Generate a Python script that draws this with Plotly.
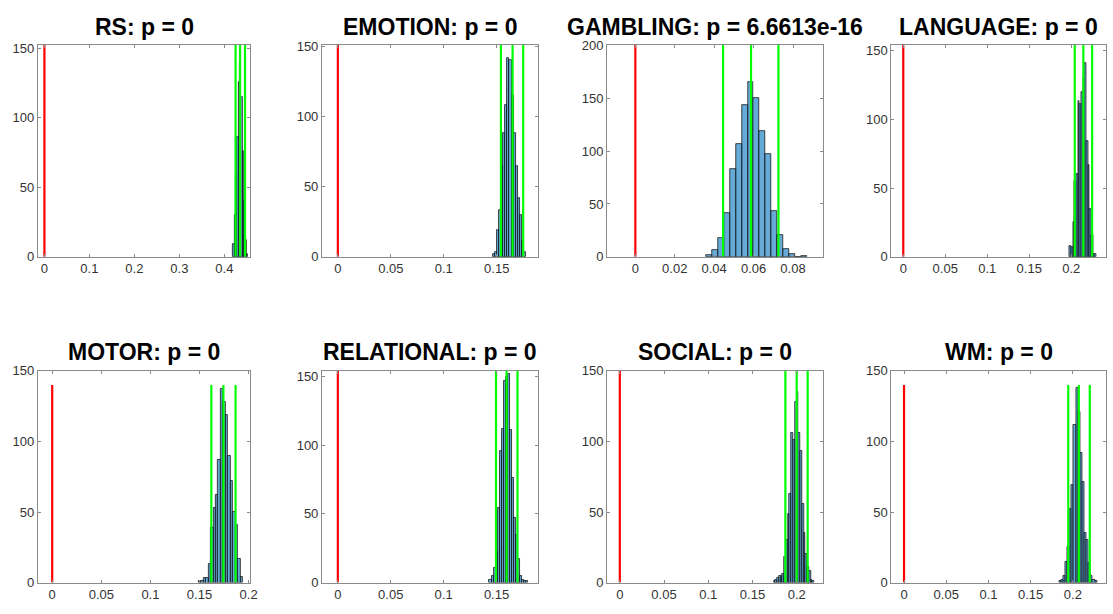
import numpy as np
import plotly.graph_objects as go

# permutation null distributions, one per task (bin start, bin width, counts)
tasks = ["RS", "EMOTION", "GAMBLING", "LANGUAGE", "MOTOR", "RELATIONAL", "SOCIAL", "WM"]
p_values = ["0", "0", "6.6613e-16", "0", "0", "0", "0", "0"]

rs_start, rs_width = 0.4195, 0.003
rs_counts = [9, 30, 59, 86, 126, 140, 115, 76, 40, 12, 2]
rs_green = [0.425, 0.435, 0.446]

emotion_start, emotion_width = 0.146, 0.002
emotion_counts = [2, 3, 19, 33, 65, 88, 108, 142, 140, 115, 88, 65, 42, 30, 11, 3]
emotion_green = [0.154, 0.165, 0.175]

gambling_start, gambling_width = 0.036, 0.003
gambling_counts = [2, 6, 18, 41, 83, 107, 144, 165, 150, 119, 97, 43, 21, 7, 3, 0, 1]
gambling_green = [0.0445, 0.0587, 0.0726]

language_start, language_width = 0.198, 0.002
language_counts = [8, 7, 25, 55, 60, 113, 111, 120, 130, 141, 84, 67, 35, 16, 2, 2]
language_green = [0.2042, 0.2144, 0.2249]

motor_start, motor_width = 0.149, 0.0025
motor_counts = [1, 1, 3, 3, 13, 39, 53, 62, 87, 137, 128, 119, 90, 72, 50, 41, 17, 4]
motor_green = [0.162, 0.1743, 0.1867]

relational_start, relational_width = 0.1433, 0.0019
relational_counts = [2, 5, 11, 22, 54, 96, 112, 147, 150, 152, 111, 76, 47, 35, 17, 5, 2, 1, 1]
relational_green = [0.1495, 0.1595, 0.1698]

social_start, social_width = 0.174, 0.002
social_counts = [1, 2, 3, 5, 5, 6, 18, 30, 49, 63, 106, 101, 128, 135, 106, 93, 56, 35, 20, 11, 8, 2, 1]
social_green = [0.1872, 0.2, 0.2124]

wm_start, wm_width = 0.1835, 0.0025
wm_counts = [1, 2, 5, 15, 25, 52, 69, 112, 138, 121, 92, 71, 35, 30, 14, 5, 2, 1]
wm_green = [0.1945, 0.207, 0.22]

hist_data = [
    (rs_start, rs_width, rs_counts, rs_green),
    (emotion_start, emotion_width, emotion_counts, emotion_green),
    (gambling_start, gambling_width, gambling_counts, gambling_green),
    (language_start, language_width, language_counts, language_green),
    (motor_start, motor_width, motor_counts, motor_green),
    (relational_start, relational_width, relational_counts, relational_green),
    (social_start, social_width, social_counts, social_green),
    (wm_start, wm_width, wm_counts, wm_green),
]

# axis settings (x range, y range, height of the red/green lines, x ticks, y ticks)
x_ticks = [
    [0, 0.1, 0.2, 0.3, 0.4],
    [0, 0.05, 0.1, 0.15],
    [0, 0.02, 0.04, 0.06, 0.08],
    [0, 0.05, 0.1, 0.15, 0.2],
    [0, 0.05, 0.1, 0.15, 0.2],
    [0, 0.05, 0.1, 0.15],
    [0, 0.05, 0.1, 0.15, 0.2],
    [0, 0.05, 0.1, 0.15, 0.2],
]
y_ticks = [[0, 50, 100, 150]] * 2 + [[0, 50, 100, 150, 200]] + [[0, 50, 100, 150]] * 5
x_ranges = [[-0.0148, 0.458], [-0.015, 0.1886], [-0.0143, 0.0951], [-0.0142, 0.2414],
            [-0.0147, 0.2018], [-0.015, 0.1888], [-0.0143, 0.2295], [-0.015, 0.2392]]
y_ranges = [[0, 152.3], [0, 151], [0, 200.5], [0, 154], [0, 150], [0, 154], [0, 150], [0, 150]]
line_tops = [152.3, 151, 200.5, 154, 140, 154, 150, 140]

W, H = 1113, 614
col_px = [(38, 252), (324, 541), (611, 828), (897, 1113)]
row_px = [(39, 256), (373, 590)]
title_px = [36, 369]  # bottom of the title text box

fig = go.Figure()
font = "Liberation Sans, Arial, sans-serif"
axis_col = "#8a8a8a"

for i, (start, width, counts, green) in enumerate(hist_data):
    r, c = divmod(i, 4)
    n = "" if i == 0 else str(i + 1)
    xa, ya = "x" + n, "y" + n
    centers = start + width * (np.arange(len(counts)) + 0.5)

    fig.add_trace(go.Bar(x=centers, y=counts, width=width, xaxis=xa, yaxis=ya,
                         marker=dict(color="rgba(0,114,189,0.6)",
                                     line=dict(color="#1a1a1a", width=0.8)),
                         showlegend=False))
    fig.add_trace(go.Scatter(x=[0, 0], y=[0, line_tops[i]], mode="lines", xaxis=xa, yaxis=ya,
                             line=dict(color="#ff0000", width=2.2), showlegend=False))
    for g in green:
        fig.add_trace(go.Scatter(x=[g, g], y=[0, line_tops[i]], mode="lines", xaxis=xa, yaxis=ya,
                                 line=dict(color="#00ff00", width=2.2), showlegend=False))

    x0, x1 = col_px[c]
    y0, y1 = row_px[r]
    common = dict(showline=True, mirror="ticks", linecolor=axis_col, linewidth=1,
                  ticks="inside", ticklen=3, tickcolor=axis_col, showgrid=False,
                  zeroline=False, tickfont=dict(family=font, size=13, color="#333333"))
    fig.layout["xaxis" + n] = dict(domain=[x0 / W, x1 / W], range=x_ranges[i], anchor=ya,
                                   tickvals=x_ticks[i], ticktext=[str(v) for v in x_ticks[i]],
                                   **common)
    fig.layout["yaxis" + n] = dict(domain=[1 - y1 / H, 1 - y0 / H], range=y_ranges[i], anchor=xa,
                                   tickvals=y_ticks[i], ticktext=[str(v) for v in y_ticks[i]],
                                   **common)
    fig.add_annotation(text=f"<b>{tasks[i]}: p = {p_values[i]}</b>", xref="paper", yref="paper",
                       x=(x0 + x1) / 2 / W, y=1 - title_px[r] / H, xanchor="center", yanchor="bottom",
                       showarrow=False, font=dict(family=font, size=23, color="#000000"))

fig.update_layout(width=W, height=H, margin=dict(l=0, r=0, t=0, b=0),
                  plot_bgcolor="white", paper_bgcolor="white", bargap=0)
# drop the default page margin so the figure sits at the window's corner
fig.write_html("out.html", config={"displayModeBar": False},
               post_script="document.body.style.margin='0';document.body.style.overflow='hidden';")
